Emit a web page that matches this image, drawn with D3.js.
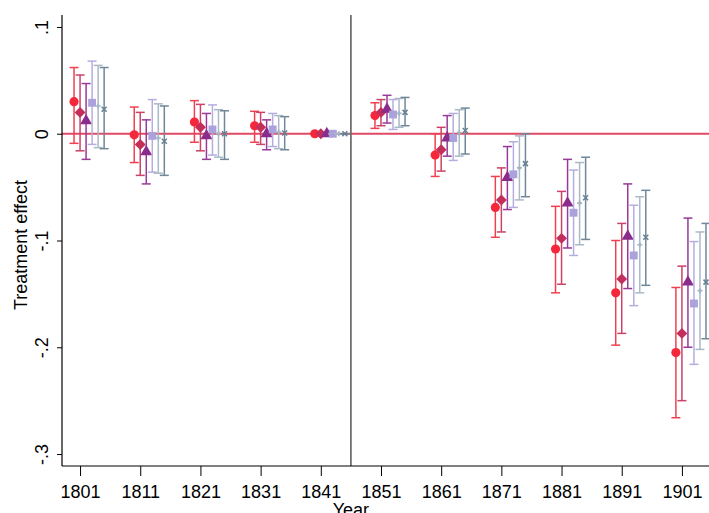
<!DOCTYPE html>
<html>
<head>
<meta charset="utf-8">
<script src="https://cdn.jsdelivr.net/npm/d3@7"></script>
<style>
  body { margin: 0; background: #fff; }
  text { font-family: "Liberation Sans", Arial, sans-serif; }
</style>
</head>
<body>
<svg id="chart"></svg>
<script>
// Census years and y tick labels
const years = [1801, 1811, 1821, 1831, 1841, 1851, 1861, 1871, 1881, 1891, 1901];
const yTicks = [0.1, 0, -0.1, -0.2, -0.3];
const yTickLabels = [".1", "0", "-.1", "-.2", "-.3"];

// Series 1 (red circle)
const circleEst = [0.030, -0.001, 0.011, 0.0075, 0, 0.017, -0.020, -0.069, -0.108, -0.149, -0.205];
const circleLo = [-0.009, -0.027, -0.008, -0.008, 0, 0.005, -0.040, -0.097, -0.149, -0.198, -0.266];
const circleHi = [0.062, 0.025, 0.031, 0.021, 0, 0.029, 0.000, -0.040, -0.068, -0.100, -0.144];

// Series 2 (crimson diamond)
const diamondEst = [0.020, -0.010, 0.006, 0.006, 0, 0.020, -0.015, -0.062, -0.098, -0.136, -0.187];
const diamondLo = [-0.016, -0.039, -0.016, -0.010, 0, 0.0075, -0.035, -0.092, -0.141, -0.187, -0.250];
const diamondHi = [0.055, 0.020, 0.0275, 0.020, 0, 0.032, 0.006, -0.032, -0.054, -0.084, -0.124];

// Series 3 (purple triangle)
const triangleEst = [0.012, -0.017, -0.002, 0.000, 0, 0.023, -0.004, -0.041, -0.065, -0.096, -0.139];
const triangleLo = [-0.024, -0.047, -0.024, -0.015, 0, 0.010, -0.021, -0.071, -0.107, -0.145, -0.200];
const triangleHi = [0.047, 0.013, 0.019, 0.013, 0, 0.036, 0.017, -0.012, -0.024, -0.047, -0.079];

// Series 4 (lavender square)
const squareEst = [0.029, -0.002, 0.004, 0.004, 0, 0.018, -0.004, -0.038, -0.074, -0.114, -0.159];
const squareLo = [-0.010, -0.036, -0.020, -0.012, 0, 0.004, -0.025, -0.069, -0.114, -0.161, -0.216];
const squareHi = [0.068, 0.032, 0.027, 0.019, 0, 0.032, 0.019, -0.0075, -0.034, -0.067, -0.101];

// Series 5 (light blue-grey plus)
const plusEst = [0.026, -0.004, 0.000, 0.0015, 0, 0.019, 0.001, -0.032, -0.065, -0.104, -0.147];
const plusLo = [-0.013, -0.037, -0.022, -0.014, 0, 0.006, -0.021, -0.062, -0.104, -0.149, -0.202];
const plusHi = [0.064, 0.028, 0.0225, 0.017, 0, 0.033, 0.0225, -0.002, -0.027, -0.059, -0.092];

// Series 6 (slate x)
const xEst = [0.023, -0.007, 0.000, 0.0006, 0, 0.020, 0.003, -0.028, -0.060, -0.097, -0.139];
const xLo = [-0.014, -0.039, -0.024, -0.015, 0, 0.0075, -0.019, -0.059, -0.099, -0.142, -0.192];
const xHi = [0.062, 0.026, 0.0215, 0.016, 0, 0.034, 0.024, 0.000, -0.022, -0.053, -0.084];

const series = [
  {est: circleEst, lo: circleLo, hi: circleHi, shift: -1, color: "#f4283a", bar: "#f0404f", symbol: d3.symbolCircle, size: 66, rot: 0},
  {est: diamondEst, lo: diamondLo, hi: diamondHi, shift: 0, color: "#c42f5a", bar: "#cb4266", symbol: d3.symbolSquare, size: 60, rot: 45},
  {est: triangleEst, lo: triangleLo, hi: triangleHi, shift: 1, color: "#8a2c8c", bar: "#973a98", symbol: d3.symbolTriangle, size: 62, rot: 0},
  {est: squareEst, lo: squareLo, hi: squareHi, shift: 2, color: "#aba2db", bar: "#b6addf", symbol: d3.symbolSquare, size: 62, rot: 0},
  {est: plusEst, lo: plusLo, hi: plusHi, shift: 3, color: "#a2b4c2", bar: "#a9b9c6", symbol: d3.symbolCross, size: 14, rot: 0},
  {est: xEst, lo: xLo, hi: xHi, shift: 4, color: "#667f90", bar: "#6f8797", symbol: d3.symbolX, size: 18, rot: 0}
];

const svgWidth = 709;
const svgHeight = 513;
const margins = {top: 15, right: 0, bottom: 47, left: 62};

const x = d3.scaleLinear()
  .domain([1798, 1905.5])
  .range([margins.left, svgWidth - margins.right]);

const y = d3.scaleLinear()
  .domain([-0.3112, 0.1112])
  .range([svgHeight - margins.bottom, margins.top]);

const chart = d3.select("#chart")
  .attr("width", svgWidth)
  .attr("height", svgHeight);

// zero line
chart.append("line")
  .attr("x1", margins.left).attr("x2", svgWidth)
  .attr("y1", y(0)).attr("y2", y(0))
  .attr("stroke", "#e04a66")
  .attr("stroke-width", 2);

// treatment start line
chart.append("line")
  .attr("x1", x(1846)).attr("x2", x(1846))
  .attr("y1", margins.top).attr("y2", y.range()[0])
  .attr("stroke", "#707070")
  .attr("stroke-width", 1.8);

// confidence intervals and point estimates
series.forEach(s => {
  const g = chart.append("g");
  const pts = years.map((yr, i) => ({xv: yr + s.shift, est: s.est[i], lo: s.lo[i], hi: s.hi[i]}));

  g.selectAll("line.ci")
    .data(pts)
    .join("line")
    .attr("x1", d => x(d.xv)).attr("x2", d => x(d.xv))
    .attr("y1", d => y(d.lo)).attr("y2", d => y(d.hi))
    .attr("stroke", s.bar)
    .attr("stroke-width", 1.5);

  ["lo", "hi"].forEach(k => {
    g.selectAll("line.cap-" + k)
      .data(pts)
      .join("line")
      .attr("x1", d => x(d.xv) - 4.5).attr("x2", d => x(d.xv) + 4.5)
      .attr("y1", d => y(d[k])).attr("y2", d => y(d[k]))
      .attr("stroke", s.bar)
      .attr("stroke-width", 1.5);
  });

  const sym = d3.symbol().type(s.symbol).size(s.size);
  const stroked = s.symbol === d3.symbolX;
  g.selectAll("path.mark")
    .data(pts)
    .join("path")
    .attr("transform", d => `translate(${x(d.xv)},${y(d.est)}) rotate(${s.rot})`)
    .attr("d", sym)
    .attr("fill", stroked ? "none" : s.color)
    .attr("stroke", stroked ? s.color : "none")
    .attr("stroke-width", 1.5);
});

// y-axis
chart.append("g")
  .attr("transform", `translate(${margins.left}, 0)`)
  .call(d3.axisLeft(y)
    .tickValues(yTicks)
    .tickSize(5)
    .tickFormat((d, i) => yTickLabels[i]))
  .call(g => g.select(".domain").attr("d", `M0,${margins.top}V${y.range()[0]}`).attr("stroke", "#000").attr("stroke-width", 1.2))
  .call(g => g.selectAll(".tick line").attr("stroke", "#000"))
  .call(g => g.selectAll(".tick text")
    .attr("font-size", 18)
    .attr("fill", "#000")
    .attr("x", null).attr("dy", null)
    .attr("text-anchor", "middle")
    .attr("transform", "translate(-14,0) rotate(-90)"));

// x-axis
chart.append("g")
  .attr("transform", `translate(0, ${y.range()[0]})`)
  .call(d3.axisBottom(x)
    .tickValues(years)
    .tickSize(10)
    .tickFormat(d3.format("d")))
  .call(g => g.select(".domain").attr("d", `M${margins.left},0H${svgWidth}`).attr("stroke", "#000").attr("stroke-width", 1.2))
  .call(g => g.selectAll(".tick line").attr("stroke", "#000"))
  .call(g => g.selectAll(".tick text")
    .attr("font-size", 18)
    .attr("fill", "#000")
    .attr("y", 19));

// axis titles
chart.append("text")
  .attr("transform", `translate(27, 245) rotate(-90)`)
  .attr("text-anchor", "middle")
  .attr("font-size", 18)
  .text("Treatment effect");

chart.append("text")
  .attr("x", x(1846))
  .attr("y", 516)
  .attr("text-anchor", "middle")
  .attr("font-size", 18)
  .text("Year");
</script>
</body>
</html>
